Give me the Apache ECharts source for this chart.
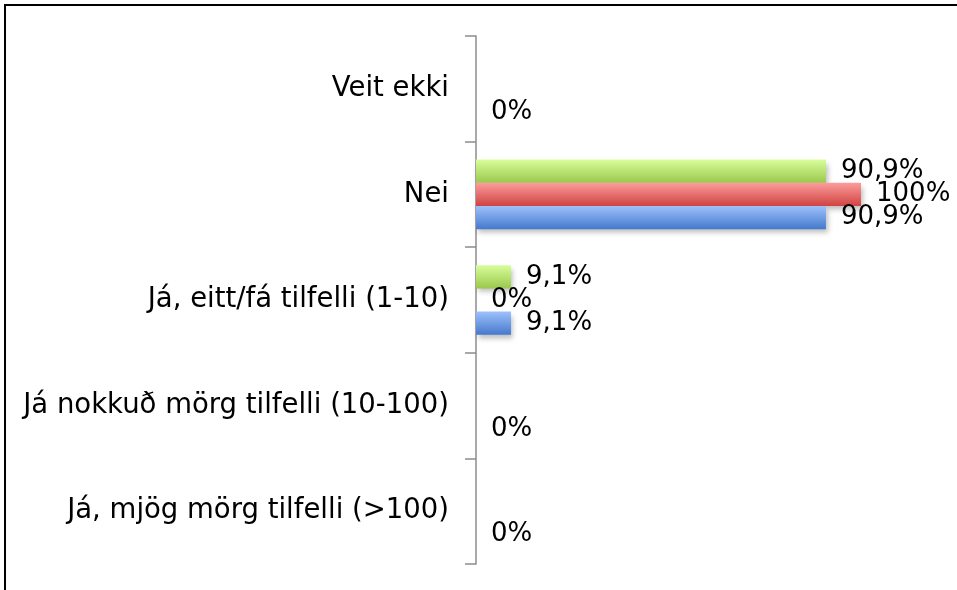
<!DOCTYPE html>
<html>
<head>
<meta charset="utf-8">
<script src="https://cdn.jsdelivr.net/npm/echarts@6/dist/echarts.min.js"></script>
<style>
  html, body { margin: 0; padding: 0; background: #fff; }
  #chart { width: 957px; height: 590px; }
</style>
</head>
<body>
<div id="chart"></div>
<script>
var categories = ['Veit ekki', 'Nei', 'Já, eitt/fá tilfelli (1-10)', 'Já nokkuð mörg tilfelli (10-100)', 'Já, mjög mörg tilfelli (>100)'];
// null = no label drawn in the original
var greenValues = [null, 90.9, 9.1, null, null];
var redValues = [null, 100, 0, null, null];
var blueValues = [0, 90.9, 9.1, 0, 0];

function grad(top, bottom) {
    return new echarts.graphic.LinearGradient(0, 0, 0, 1, [
        { offset: 0, color: top },
        { offset: 1, color: bottom }
    ]);
}

function fmt(p) {
    if (p.value == null) return '';
    return String(p.value).replace('.', ',') + '%';
}

function makeSeries(name, data, top, bottom) {
    return {
        name: name,
        type: 'bar',
        data: data,
        barGap: '0%',
        barCategoryGap: '34%',
        itemStyle: {
            color: grad(top, bottom),
            shadowColor: 'rgba(0,0,0,0.25)',
            shadowBlur: 5,
            shadowOffsetX: 2,
            shadowOffsetY: 4
        },
        label: {
            show: true,
            position: 'right',
            distance: 15,
            formatter: fmt,
            color: '#000',
            fontFamily: 'DejaVu Sans',
            fontSize: 26
        }
    };
}

var chart = echarts.init(document.getElementById('chart'));

var option = {
    animation: false,
    grid: { left: 476, right: 19, top: 36, bottom: 26 },
    xAxis: {
        type: 'value',
        min: 0,
        max: 120,
        show: false
    },
    yAxis: {
        type: 'category',
        inverse: true,
        data: categories,
        offset: 2,
        axisLine: { show: true, lineStyle: { color: '#8c8c8c', width: 1.5 } },
        axisTick: { show: true, length: 11, lineStyle: { color: '#8c8c8c', width: 1.5 } },
        axisLabel: {
            margin: 25,
            color: '#000',
            fontFamily: 'DejaVu Sans',
            fontSize: 27.5
        }
    },
    graphic: [{
        type: 'rect',
        shape: { x: 5, y: 5, width: 1000, height: 700 },
        style: { fill: 'none', stroke: '#000', lineWidth: 2 }
    }],
    series: [
        makeSeries('green', greenValues, '#d8fe9b', '#9ac84c'),
        makeSeries('red', redValues, '#fc9d9b', '#cf4341'),
        makeSeries('blue', blueValues, '#9dc1fc', '#4579cc')
    ]
};

chart.setOption(option);
</script>
</body>
</html>
